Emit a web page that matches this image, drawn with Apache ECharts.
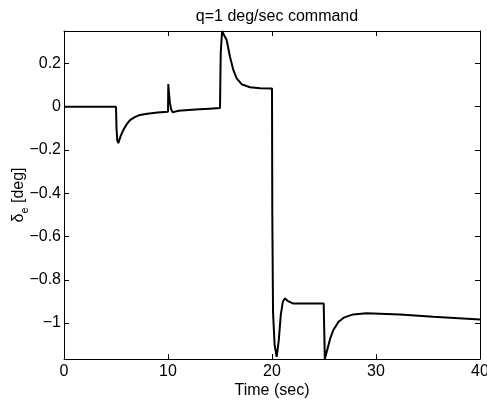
<!DOCTYPE html>
<html>
<head>
<meta charset="utf-8">
<script src="https://cdn.jsdelivr.net/npm/echarts@6/dist/echarts.min.js"></script>
<style>
  html, body { margin: 0; padding: 0; background: #fff; }
  #chart { width: 487px; height: 403px; }
</style>
</head>
<body>
<div id="chart"></div>
<script>
// time [sec] and elevator deflection [deg]
var timeSec = [
  0, 5.0, 5.05, 5.12, 5.22, 5.32, 5.45, 5.7, 6.0, 6.35, 6.8, 7.3, 8.0, 9.0, 10.0,
  10.03, 10.08, 10.18, 10.3, 10.45, 10.6, 11.0, 12.0, 13.0, 14.0, 15.0,
  15.07, 15.2, 15.4, 15.64, 15.96, 16.28, 16.6, 17.08, 17.88, 18.85, 20.0,
  20.03, 20.1, 20.25, 20.45, 20.65, 20.85, 21.05, 21.25, 21.5, 22.0, 23.0, 24.97,
  25.03, 25.08, 25.3, 25.6, 25.9, 26.4, 26.9, 27.8, 29.1, 32.3, 35.5, 40.0
];
var deltaE = [
  0, 0, -0.10, -0.155, -0.169, -0.160, -0.135, -0.108, -0.083, -0.062, -0.048, -0.038, -0.032, -0.027, -0.023,
  0.105, 0.07, 0.02, -0.012, -0.026, -0.024, -0.019, -0.015, -0.012, -0.009, -0.006,
  0.25, 0.35, 0.33, 0.308, 0.231, 0.17, 0.131, 0.104, 0.09, 0.085, 0.084,
  -0.5, -0.95, -1.10, -1.156, -1.08, -0.96, -0.90, -0.886, -0.897, -0.909, -0.91, -0.909,
  -1.05, -1.166, -1.125, -1.071, -1.032, -0.994, -0.975, -0.96, -0.955, -0.96, -0.971, -0.983
];
var xTicks = [0, 10, 20, 30, 40];
var yTicks = [-1, -0.8, -0.6, -0.4, -0.2, 0, 0.2];

var points = timeSec.map(function (t, i) { return [t, deltaE[i]]; });

var font = 'Liberation Sans, Arial, Helvetica, sans-serif';
var fs = 16;
var fmtY = function (v) { return String(Math.round(v * 10) / 10).replace('-', '\u2212'); };

var boxLine = { onZero: false, lineStyle: { color: '#000', width: 1 } };
var tick = function (vals) {
  return { inside: true, length: 5, customValues: vals, lineStyle: { color: '#000' } };
};

var chart = echarts.init(document.getElementById('chart'));
chart.setOption({
  animation: false,
  backgroundColor: '#fff',
  title: {
    text: 'q=1 deg/sec command',
    left: 272,
    textAlign: 'center',
    top: 4,
    textStyle: { fontFamily: font, fontSize: fs, fontWeight: 'normal', color: '#000' }
  },
  grid: { left: 64, right: 7, top: 31, bottom: 44, outerBoundsMode: 'none', containLabel: false },
  xAxis: [
    {
      type: 'value', min: 0, max: 40,
      name: 'Time (sec)', nameLocation: 'middle', nameGap: 24, nameMoveOverlap: false,
      nameTextStyle: { fontFamily: font, fontSize: fs, color: '#000' },
      axisLine: boxLine,
      axisTick: tick(xTicks),
      axisLabel: { margin: 5, customValues: xTicks, fontFamily: font, fontSize: fs, color: '#000' },
      splitLine: { show: false }
    },
    {
      type: 'value', min: 0, max: 40, position: 'top',
      axisLine: boxLine,
      axisTick: tick(xTicks),
      axisLabel: { show: false },
      splitLine: { show: false }
    }
  ],
  yAxis: [
    {
      type: 'value', min: -1.166, max: 0.35,
      name: '{a|\u03b4}{b|e}{a| [deg]}', nameLocation: 'middle', nameGap: 34, nameMoveOverlap: false,
      nameTextStyle: {
        fontFamily: font, fontSize: fs, color: '#000',
        rich: {
          a: { fontFamily: font, fontSize: fs, color: '#000', lineHeight: 22, verticalAlign: 'middle' },
          b: { fontFamily: font, fontSize: 11, color: '#000', lineHeight: 22, verticalAlign: 'bottom' }
        }
      },
      axisLine: boxLine,
      axisTick: tick(yTicks),
      axisLabel: { margin: 3, customValues: yTicks, formatter: fmtY, fontFamily: font, fontSize: fs, color: '#000' },
      splitLine: { show: false }
    },
    {
      type: 'value', min: -1.166, max: 0.35, position: 'right',
      axisLine: boxLine,
      axisTick: tick(yTicks),
      axisLabel: { show: false },
      splitLine: { show: false }
    }
  ],
  series: [{
    type: 'line',
    data: points,
    showSymbol: false,
    clip: true,
    lineStyle: { color: '#000', width: 2 }
  }]
});
</script>
</body>
</html>
